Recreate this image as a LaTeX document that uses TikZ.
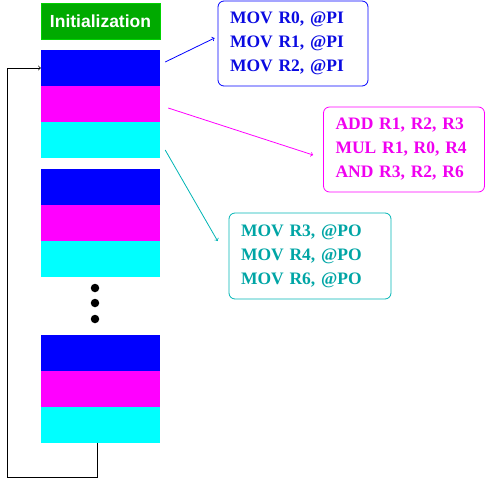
\documentclass[tikz,border=0pt]{standalone}
\usepackage{fontspec}
\setmainfont{Liberation Serif}
\setsansfont{Liberation Sans}
\usetikzlibrary{calc}
\definecolor{initgreen}{RGB}{0,170,0}
\definecolor{initedge}{RGB}{0,210,0}
\definecolor{pblue}{RGB}{0,0,255}
\definecolor{pmagenta}{RGB}{255,0,255}
\definecolor{pcyan}{RGB}{0,255,255}
\definecolor{bluetext}{RGB}{10,10,225}
\definecolor{magtext}{RGB}{240,0,240}
\definecolor{tealtext}{RGB}{0,165,165}
\definecolor{tealedge}{RGB}{0,180,180}
\begin{document}
\begin{tikzpicture}[x=1pt, y=-1pt,
    stage/.style={minimum width=119pt, minimum height=36pt, inner sep=0pt, draw=none},
    code/.style={draw, rounded corners=6pt, line width=0.8pt, align=left, inner xsep=12pt,
      inner ysep=6pt, font=\fontsize{17.5}{24}\selectfont\bfseries},
    link/.style={->, line width=0.8pt}]
    \useasboundingbox (0,0) rectangle (485,480);

    % Inicjalizacja
    \node[stage, fill=initgreen, draw=initedge, line width=0.8pt, text=white,
      font=\fontsize{17.5}{20}\selectfont\sffamily\bfseries] (init) at (100.5,21) {Initialization};

    % Bloki
    \node[stage, fill=pblue] (b1) at (100.5,68) {};
    \node[stage, fill=pmagenta] (m1) at (100.5,104) {};
    \node[stage, fill=pcyan] (c1) at (100.5,140) {};

    \node[stage, fill=pblue] (b2) at (100.5,187) {};
    \node[stage, fill=pmagenta] (m2) at (100.5,223) {};
    \node[stage, fill=pcyan] (c2) at (100.5,259) {};

    \foreach \y/\n in {288/d1, 303/d2, 319/d3}
        \node[circle, fill=black, inner sep=0pt, minimum size=8.5pt] (\n) at (95,\y) {};

    \node[stage, fill=pblue] (b3) at (100.5,352.5) {};
    \node[stage, fill=pmagenta] (m3) at (100.5,388.5) {};
    \node[stage, fill=pcyan] (c3) at (100.5,424.5) {};

    % Petla
    \coordinate (loop) at (7,477);
    \draw[->, line width=0.8pt] ([xshift=-3.5pt]c3.south) |- (loop) |- (b1.west);

    % Instrukcje
    \node[code, draw=pblue, text=bluetext, text width=126pt, minimum height=85pt] (pi) at (293,43.5)
        {MOV R0, @PI\\MOV R1, @PI\\MOV R2, @PI};
    \node[code, draw=pmagenta, text=magtext, text width=137pt, minimum height=85pt] (alu) at (404,149.5)
        {ADD R1, R2, R3\\MUL R1, R0, R4\\AND R3, R2, R6};
    \node[code, draw=tealedge, text=tealtext, text width=138pt, minimum height=86pt] (po) at (310,256)
        {MOV R3, @PO\\MOV R4, @PO\\MOV R6, @PO};

    % Strzalki
    \draw[link, pblue] ($(b1.east)+(5,-6)$) -- ($(pi.west)+(-3,-5.5)$);
    \draw[link, pmagenta] ($(m1.east)+(8,4)$) -- ($(alu.west)+(-10,5.5)$);
    \draw[link, tealedge] ($(c1.east)+(5,10)$) -- ($(po.west)+(-11,-15)$);
\end{tikzpicture}
\end{document}
